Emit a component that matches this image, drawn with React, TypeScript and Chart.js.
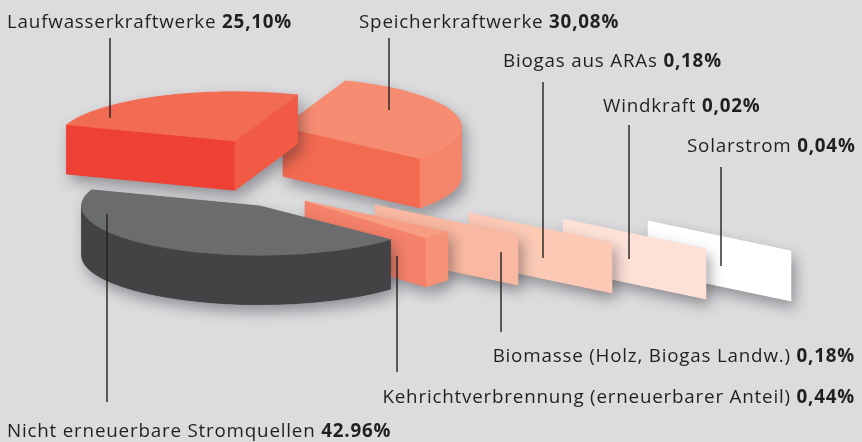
import React, { useEffect, useRef } from "react";
import { Chart, registerables } from "chart.js";

Chart.register(...registerables);

// ---------------- data ----------------
const categories = [
  "Nicht erneuerbare Stromquellen",
  "Laufwasserkraftwerke",
  "Speicherkraftwerke",
  "Kehrichtverbrennung (erneuerbarer Anteil)",
  "Biomasse (Holz, Biogas Landw.)",
  "Biogas aus ARAs",
  "Windkraft",
  "Solarstrom",
];
const shares = [42.96, 25.1, 30.08, 0.44, 0.18, 0.18, 0.02, 0.04];
const shareLabels = ["42.96%", "25,10%", "30,08%", "0,44%", "0,18%", "0,18%", "0,02%", "0,04%"];

// ---------------- styles ----------------
const BG = "#dcdcde";
const TEXT = "#231f20";
const FONT = '"Open Sans", "Noto Sans", sans-serif';
const FONT_SIZE = 18.8;
const LETTER_SPACING = "0.8px";

const topColors = ["#6b6c6e", "#f26c54", "#f68d72", "#f4816a", "#f9b8a1", "#fbc9b4", "#fde0d6", "#ffffff"];
const wedgeStyle = [
  { curve: "#434345", startFace: "#505052", endFace: "#505052" },
  { curve: "#ee4035", startFace: "#ee4035", endFace: "#f15a45" },
  { curve: "#f5856a", startFace: "#f26a50", endFace: "#f26a50" },
];
const boxStyle = { top: "#f79d84", side: "#f69275" };

// pie projection (relative to Chart.js outer radius)
const ELLIPSE_X = 1.05;
const ELLIPSE_Y = 0.29;
const DEPTH = 0.29;
// explode shift of each big slice (px)
const SLICE_SHIFT = [
  [-2, 36],
  [-27, -29],
  [21, -43],
];
// plates for the tiny slices (offset from pie centre, px)
const PLATE_POS = [
  [43, 31],
  [113, 35],
  [207, 43],
  [301, 49],
  [386, 51],
];
const PLATE_W = 143;
const PLATE_H = 50;
const PLATE_SLANT = 30;

// label layout: text anchor + leader line
const LABEL_LAYOUT = [
  { x: 7, y: 437, align: "left", lx: 107, ly1: 214, ly2: 402 },
  { x: 7, y: 28, align: "left", lx: 110, ly1: 38, ly2: 118 },
  { x: 359, y: 28, align: "left", lx: 389, ly1: 38, ly2: 110 },
  { x: 855, y: 403, align: "right", lx: 397, ly1: 256, ly2: 372 },
  { x: 855, y: 362, align: "right", lx: 501, ly1: 252, ly2: 332 },
  { x: 503, y: 67, align: "left", lx: 543, ly1: 82, ly2: 258 },
  { x: 603, y: 112, align: "left", lx: 629, ly1: 125, ly2: 259 },
  { x: 687, y: 152, align: "left", lx: 721, ly1: 167, ly2: 266 },
];

type Face = { path: (ctx: CanvasRenderingContext2D) => void; color: string };

function drawPiece(ctx: CanvasRenderingContext2D, faces: Face[]) {
  ctx.save();
  ctx.shadowColor = "rgba(30,30,40,0.4)";
  ctx.shadowBlur = 14;
  ctx.shadowOffsetX = 4;
  ctx.shadowOffsetY = 7;
  for (const f of faces) {
    ctx.beginPath();
    f.path(ctx);
    ctx.fillStyle = f.color;
    ctx.fill();
  }
  ctx.restore();
  for (const f of faces) {
    ctx.beginPath();
    f.path(ctx);
    ctx.fillStyle = f.color;
    ctx.fill();
    ctx.strokeStyle = f.color;
    ctx.lineWidth = 0.6;
    ctx.stroke();
  }
}

function wedgeFaces(c: { x: number; y: number }, s: number, e: number, A: number, B: number, H: number, i: number): Face[] {
  const st = wedgeStyle[i];
  const P = (t: number, dy = 0) => ({ x: c.x + A * Math.cos(t), y: c.y + B * Math.sin(t) + dy });
  const faces: Face[] = [];
  const radial = (t: number, color: string): Face => ({
    color,
    path: (ctx) => {
      const p = P(t);
      ctx.moveTo(c.x, c.y);
      ctx.lineTo(p.x, p.y);
      ctx.lineTo(p.x, p.y + H);
      ctx.lineTo(c.x, c.y + H);
      ctx.closePath();
    },
  });
  if (Math.cos(s) < 0) faces.push(radial(s, st.startFace));
  if (Math.cos(e) > 0) faces.push(radial(e, st.endFace));
  for (let k = -1; k <= 2; k++) {
    const lo = Math.max(s, k * 2 * Math.PI);
    const hi = Math.min(e, k * 2 * Math.PI + Math.PI);
    if (hi > lo + 1e-4) {
      faces.push({
        color: st.curve,
        path: (ctx) => {
          ctx.ellipse(c.x, c.y, A, B, 0, lo, hi, false);
          const p = P(hi, H);
          ctx.lineTo(p.x, p.y);
          ctx.ellipse(c.x, c.y + H, A, B, 0, hi, lo, true);
          ctx.closePath();
        },
      });
    }
  }
  faces.push({
    color: topColors[i],
    path: (ctx) => {
      ctx.moveTo(c.x, c.y);
      ctx.ellipse(c.x, c.y, A, B, 0, s, e, false);
      ctx.closePath();
    },
  });
  return faces;
}

function poly(pts: number[][]) {
  return (ctx: CanvasRenderingContext2D) => {
    ctx.moveTo(pts[0][0], pts[0][1]);
    for (let k = 1; k < pts.length; k++) ctx.lineTo(pts[k][0], pts[k][1]);
    ctx.closePath();
  };
}

function plateFaces(cx: number, cy: number, j: number, idx: number): Face[] {
  const x = cx + PLATE_POS[j][0];
  const y = cy + PLATE_POS[j][1];
  if (j === 0) {
    const fw = PLATE_W - 22;
    const tr = [x + fw, y + 37];
    const d = [22, -6];
    return [
      { color: topColors[idx], path: poly([[x, y], tr, [tr[0], tr[1] + 49], [x, y + 49]]) },
      { color: boxStyle.top, path: poly([[x, y], [tr[0] + d[0], tr[1] + d[1]], tr]) },
      {
        color: boxStyle.side,
        path: poly([tr, [tr[0] + d[0], tr[1] + d[1]], [tr[0] + d[0], tr[1] + d[1] + 48], [tr[0], tr[1] + 49]]),
      },
    ];
  }
  return [
    {
      color: topColors[idx],
      path: poly([
        [x, y],
        [x + PLATE_W, y + PLATE_SLANT],
        [x + PLATE_W, y + PLATE_SLANT + PLATE_H],
        [x, y + PLATE_H],
      ]),
    },
  ];
}

const pie3d = {
  id: "pie3d",
  beforeDraw(chart: any) {
    const ctx = chart.ctx as CanvasRenderingContext2D;
    ctx.save();
    ctx.fillStyle = BG;
    ctx.fillRect(0, 0, chart.width, chart.height);
    ctx.restore();
  },
  beforeDatasetsDraw(chart: any) {
    const ctx = chart.ctx as CanvasRenderingContext2D;
    const arcs = chart.getDatasetMeta(0).data as any[];
    if (!arcs.length) return false;
    const { x: cx, y: cy, outerRadius: R } = arcs[0].getProps(["x", "y", "outerRadius"], true);
    const A = R * ELLIPSE_X;
    const B = R * ELLIPSE_Y;
    const H = R * DEPTH;
    const wedge = (i: number) => {
      const { startAngle, endAngle } = arcs[i].getProps(["startAngle", "endAngle"], true);
      const c = { x: cx + SLICE_SHIFT[i][0], y: cy + SLICE_SHIFT[i][1] };
      return wedgeFaces(c, startAngle, endAngle, A, B, H, i);
    };
    // back to front
    drawPiece(ctx, wedge(2));
    drawPiece(ctx, wedge(1));
    for (let idx = arcs.length - 1; idx >= 3; idx--) {
      drawPiece(ctx, plateFaces(cx, cy, idx - 3, idx));
    }
    drawPiece(ctx, wedge(0));
    return false;
  },
  afterDraw(chart: any) {
    const ctx = chart.ctx as any;
    ctx.save();
    ctx.strokeStyle = TEXT;
    ctx.lineWidth = 1.4;
    ctx.fillStyle = TEXT;
    ctx.textBaseline = "alphabetic";
    ctx.textAlign = "left";
    ctx.letterSpacing = LETTER_SPACING;
    categories.forEach((name, i) => {
      const L = LABEL_LAYOUT[i];
      ctx.beginPath();
      ctx.moveTo(L.lx, L.ly1);
      ctx.lineTo(L.lx, L.ly2);
      ctx.stroke();
      ctx.font = `400 ${FONT_SIZE}px ${FONT}`;
      const w1 = ctx.measureText(name + " ").width;
      ctx.font = `700 ${FONT_SIZE}px ${FONT}`;
      const w2 = ctx.measureText(shareLabels[i]).width;
      const x0 = L.align === "right" ? L.x - w1 - w2 : L.x;
      ctx.font = `400 ${FONT_SIZE}px ${FONT}`;
      ctx.fillText(name + " ", x0, L.y);
      ctx.font = `700 ${FONT_SIZE}px ${FONT}`;
      ctx.fillText(shareLabels[i], x0 + w1, L.y);
    });
    ctx.restore();
  },
};

export default function App() {
  const ref = useRef<HTMLCanvasElement | null>(null);
  useEffect(() => {
    document.body.style.margin = "0";
    const canvas = ref.current;
    if (!canvas) return;
    const chart = new Chart(canvas, {
      type: "pie",
      data: {
        labels: categories,
        datasets: [{ data: shares, backgroundColor: topColors, borderWidth: 0 }],
      },
      options: {
        responsive: false,
        animation: false,
        rotation: 133,
        events: [],
        layout: { padding: { left: 92, right: 430, top: 0, bottom: 102 } },
        plugins: { legend: { display: false }, tooltip: { enabled: false } },
      },
      plugins: [pie3d as any],
    });
    return () => chart.destroy();
  }, []);
  return (
    <div style={{ position: "fixed", left: 0, top: 0, width: 862, height: 442, background: BG }}>
      <canvas ref={ref} width={862} height={442} style={{ display: "block" }} />
    </div>
  );
}
